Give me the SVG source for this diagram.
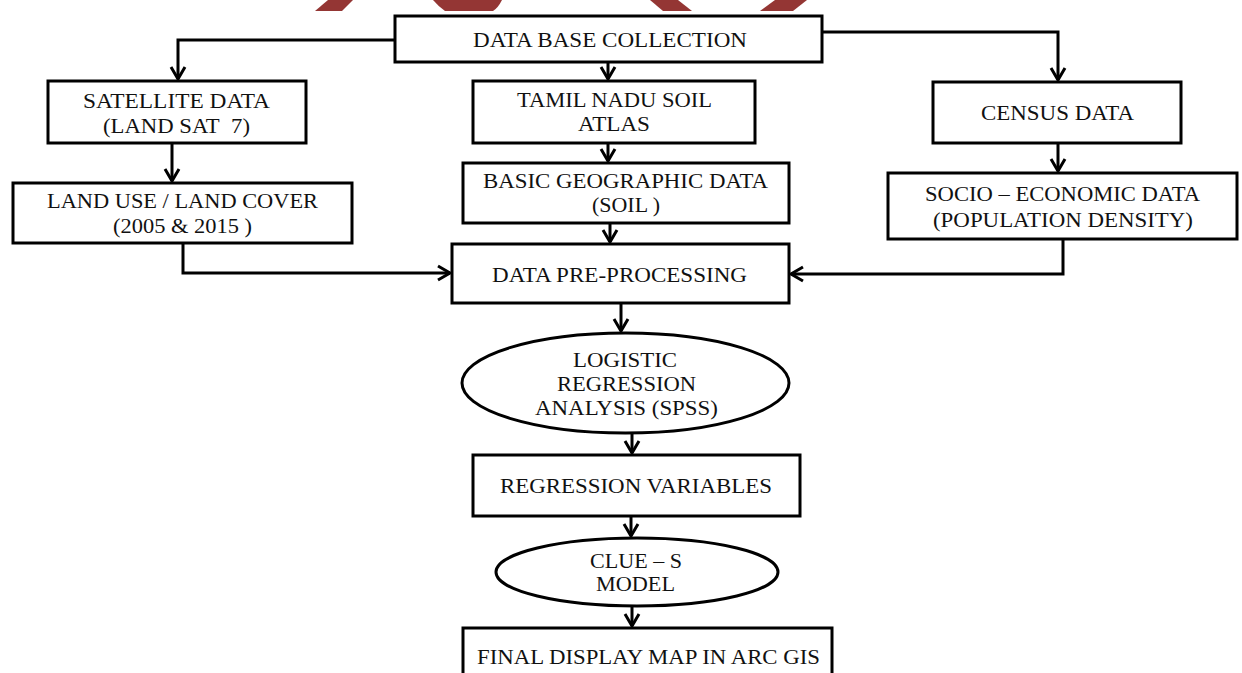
<svg xmlns="http://www.w3.org/2000/svg" width="1242" height="673" viewBox="0 0 1242 673">
<style>
.box{fill:#fff;stroke:#000;stroke-width:3}
.t{font-family:"Liberation Serif","Times New Roman",serif;font-size:20px;fill:#111;text-anchor:middle}
.c{fill:none;stroke:#000;stroke-width:3}
.wm{fill:#943634}
</style>
<defs>
<marker id="ah" markerUnits="userSpaceOnUse" markerWidth="20" markerHeight="20" viewBox="-14 -10 16 20" refX="0" refY="0" orient="auto">
<path d="M-12,-7 L0,0 L-12,7" fill="none" stroke="#000" stroke-width="3"/>
</marker>
</defs>
<rect width="1242" height="673" fill="#fff"/>
<g id="watermark">
<polygon class="wm" points="328,0 353,0 342,11 315,11"/>
<path class="wm" d="M433,0 H502 Q498,8 493,11 H445 Q438,6 433,0 Z"/>
<path class="wm" d="M650,0 H678 L692,11 H663 Z"/>
<path class="wm" d="M775,0 H807 L793,11 H760 Z"/>
</g>
<g id="connectors">
<path class="c" d="M395,40 H178 V79" marker-end="url(#ah)"/>
<path class="c" d="M608,62 V79" marker-end="url(#ah)"/>
<path class="c" d="M822,32 H1058 V80" marker-end="url(#ah)"/>
<path class="c" d="M172,143 V181" marker-end="url(#ah)"/>
<path class="c" d="M608,143 V161" marker-end="url(#ah)"/>
<path class="c" d="M1058,143 V171" marker-end="url(#ah)"/>
<path class="c" d="M610,223 V242" marker-end="url(#ah)"/>
<path class="c" d="M183,243 V273 H450" marker-end="url(#ah)"/>
<path class="c" d="M1063,239 V274 H791" marker-end="url(#ah)"/>
<path class="c" d="M621,303 V331" marker-end="url(#ah)"/>
<path class="c" d="M632,433 V453" marker-end="url(#ah)"/>
<path class="c" d="M631,516 V536" marker-end="url(#ah)"/>
<path class="c" d="M632,606 V626" marker-end="url(#ah)"/>
</g>
<g id="n-database">
<rect class="box" x="395" y="16" width="427" height="46"/>
<text class="t" x="610" y="47" textLength="274" lengthAdjust="spacingAndGlyphs">DATA BASE COLLECTION</text>
</g>
<g id="n-satellite">
<rect class="box" x="48" y="81" width="258" height="62"/>
<text class="t" x="176.5" y="108" textLength="187" lengthAdjust="spacingAndGlyphs">SATELLITE DATA</text>
<text class="t" x="176.5" y="133" textLength="147" lengthAdjust="spacingAndGlyphs">(LAND SAT&#160; 7)</text>
</g>
<g id="n-soilatlas">
<rect class="box" x="473" y="81" width="282" height="62"/>
<text class="t" x="614.5" y="107" textLength="195" lengthAdjust="spacingAndGlyphs">TAMIL NADU SOIL</text>
<text class="t" x="614" y="131" textLength="72" lengthAdjust="spacingAndGlyphs">ATLAS</text>
</g>
<g id="n-census">
<rect class="box" x="933" y="82" width="248" height="61"/>
<text class="t" x="1057.5" y="120" textLength="153" lengthAdjust="spacingAndGlyphs">CENSUS DATA</text>
</g>
<g id="n-landuse">
<rect class="box" x="13" y="183" width="339" height="60"/>
<text class="t" x="182.5" y="208" textLength="271" lengthAdjust="spacingAndGlyphs">LAND USE / LAND COVER</text>
<text class="t" x="182.5" y="233" textLength="139" lengthAdjust="spacingAndGlyphs">(2005 &amp; 2015 )</text>
</g>
<g id="n-basic">
<rect class="box" x="463" y="163" width="326" height="60"/>
<text class="t" x="625.5" y="188" textLength="285" lengthAdjust="spacingAndGlyphs">BASIC GEOGRAPHIC DATA</text>
<text class="t" x="626" y="212" textLength="68" lengthAdjust="spacingAndGlyphs">(SOIL )</text>
</g>
<g id="n-socio">
<rect class="box" x="888" y="173" width="349" height="66"/>
<text class="t" x="1062.5" y="201" textLength="275" lengthAdjust="spacingAndGlyphs">SOCIO – ECONOMIC DATA</text>
<text class="t" x="1063" y="227" textLength="260" lengthAdjust="spacingAndGlyphs">(POPULATION DENSITY)</text>
</g>
<g id="n-preprocessing">
<rect class="box" x="452" y="244" width="337" height="59"/>
<text class="t" x="619.5" y="282" textLength="255" lengthAdjust="spacingAndGlyphs">DATA PRE-PROCESSING</text>
</g>
<g id="n-logistic">
<ellipse class="box" cx="625.5" cy="383" rx="163.5" ry="50"/>
<text class="t" x="625" y="367" textLength="104" lengthAdjust="spacingAndGlyphs">LOGISTIC</text>
<text class="t" x="626.5" y="391" textLength="139" lengthAdjust="spacingAndGlyphs">REGRESSION</text>
<text class="t" x="626.5" y="415" textLength="183" lengthAdjust="spacingAndGlyphs">ANALYSIS (SPSS)</text>
</g>
<g id="n-regvars">
<rect class="box" x="473" y="455" width="327" height="61"/>
<text class="t" x="636" y="493" textLength="272" lengthAdjust="spacingAndGlyphs">REGRESSION VARIABLES</text>
</g>
<g id="n-clue">
<ellipse class="box" cx="637" cy="572" rx="141" ry="34"/>
<text class="t" x="636" y="568" textLength="92" lengthAdjust="spacingAndGlyphs">CLUE – S</text>
<text class="t" x="635.5" y="591" textLength="79" lengthAdjust="spacingAndGlyphs">MODEL</text>
</g>
<g id="n-final">
<rect class="box" x="463" y="628" width="369" height="62"/>
<text class="t" x="648.5" y="664" textLength="343" lengthAdjust="spacingAndGlyphs">FINAL DISPLAY MAP IN ARC GIS</text>
</g>
</svg>
